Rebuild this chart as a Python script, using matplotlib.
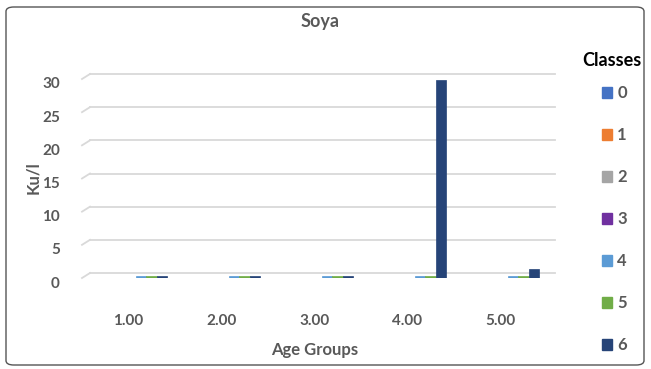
import matplotlib
matplotlib.use("Agg")
import matplotlib.pyplot as plt
from matplotlib.patches import Patch, FancyBboxPatch
import matplotlib.transforms as mtransforms
import numpy as np

plt.rcParams['font.family'] = ['Lato', 'DejaVu Sans']

# data
age_groups = ["1.00", "2.00", "3.00", "4.00", "5.00"]
classes = ["0", "1", "2", "3", "4", "5", "6"]
class0 = [0, 0, 0, 0, 0]
class1 = [0, 0, 0, 0, 0]
class2 = [0, 0, 0, 0, 0]
class3 = [0, 0, 0, 0, 0]
class4 = [0.3, 0.3, 0.3, 0.3, 0.3]
class5 = [0.3, 0.3, 0.3, 0.3, 0.3]
class6 = [0.3, 0.3, 0.3, 29.8, 1.3]
series = [class0, class1, class2, class3, class4, class5, class6]
colors = ["#4472C4", "#ED7D31", "#A5A5A5", "#7030A0", "#5B9BD5", "#70AD47", "#264478"]
yticks = [0, 5, 10, 15, 20, 25, 30]

W, H = 651, 369
fig = plt.figure(figsize=(W / 100, H / 100), dpi=100)

# outer rounded frame
frame = FancyBboxPatch((6 / W, 4 / H), 638 / W, 358 / H,
                       boxstyle="round,pad=0,rounding_size=0.012",
                       transform=fig.transFigure, fill=False,
                       edgecolor="#555555", linewidth=1.0)
fig.patches.append(frame)

ax_l, ax_r, ax_b, ax_t = 82, 547, 278, 79
ax = fig.add_axes([ax_l / W, 1 - ax_b / H, (ax_r - ax_l) / W, (ax_b - ax_t) / H])
ax.set_xlim(0.5, 5.5)
ax.set_ylim(0, 30)

# 3D-ish gridlines: back wall lines with a slanted floor edge
axw = ax_r - ax_l
axh = ax_b - ax_t
dx = 8 / axw
dy = 5 * 30 / axh
trans = mtransforms.blended_transform_factory(ax.transAxes, ax.transData)
for t in yticks:
    ax.plot([0, dx], [t, t + dy], color="#D9D9D9", lw=1.3, transform=trans, clip_on=False, zorder=0)
    ax.plot([dx, (555 - ax_l) / axw], [t + dy, t + dy], color="#D9D9D9", lw=1.3,
            transform=trans, clip_on=False, zorder=0)

x = np.arange(1, len(age_groups) + 1)
w = 0.113
for i, (vals, c) in enumerate(zip(series, colors)):
    offs = (i - 3) * w + 0.02
    ax.bar(x + offs, vals, width=w, color=c, edgecolor=c, linewidth=0.5, zorder=3)

for s in ax.spines.values():
    s.set_visible(False)
ax.tick_params(length=0, colors="#595959", labelsize=11)
ax.set_xticks(x)
ax.set_xticklabels(age_groups, fontweight="bold")
ax.set_yticks(yticks)
ax.set_yticklabels([str(t) for t in yticks], fontweight="bold")
ax.tick_params(axis="x", pad=26)
ax.tick_params(axis="y", pad=16)
for lab in ax.get_yticklabels():
    lab.set_transform(lab.get_transform() + mtransforms.ScaledTranslation(0, -4 / 100, fig.dpi_scale_trans))

fig.text(320 / W, 1 - 22 / H, "Soya", ha="center", va="center", fontsize=13,
         fontweight="bold", color="#595959")
fig.text(33 / W, 1 - 178 / H, "Ku/l", ha="center", va="center", rotation=90,
         fontsize=12, fontweight="bold", color="#595959")
fig.text(315 / W, 1 - 350 / H, "Age Groups", ha="center", va="center",
         fontsize=12, fontweight="bold", color="#595959")
fig.text(612 / W, 1 - 60 / H, "Classes", ha="center", va="center",
         fontsize=13, fontweight="bold", color="black")

handles = [Patch(facecolor=c, edgecolor=c) for c in colors]
leg = fig.legend(handles, classes, loc="upper left", bbox_to_anchor=(594 / W, 1 - 77 / H),
                 frameon=False, fontsize=12,
                 handlelength=0.6, handleheight=0.6, handletextpad=0.3,
                 labelspacing=1.56, borderpad=0)
for txt in leg.get_texts():
    txt.set_color("#595959")
    txt.set_fontweight("bold")

fig.savefig("out.png", dpi=100)
